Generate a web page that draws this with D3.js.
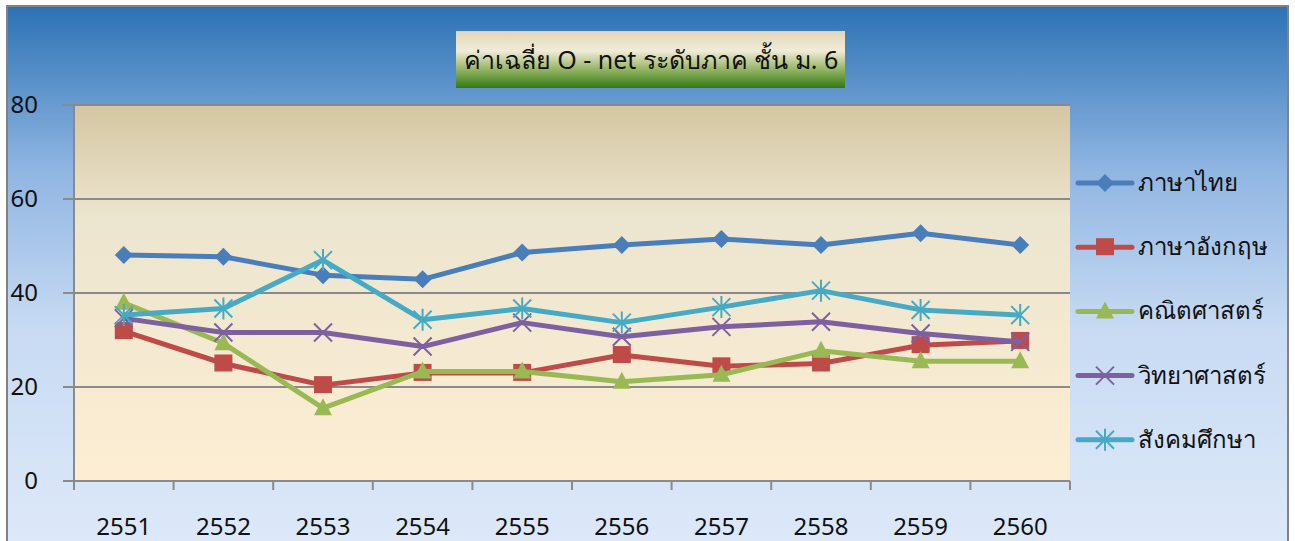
<!DOCTYPE html>
<html>
<head>
<meta charset="utf-8">
<script src="https://cdn.jsdelivr.net/npm/d3@7"></script>
<style>
  body{margin:0;background:#fff;}
  svg text{font-family:"Noto Sans","DejaVu Sans",sans-serif;fill:#111;}
</style>
</head>
<body>
<svg id="chart" width="1295" height="541"></svg>
<script>
// data
const years = ['2551','2552','2553','2554','2555','2556','2557','2558','2559','2560'];
const subjects = ['ภาษาไทย','ภาษาอังกฤษ','คณิตศาสตร์','วิทยาศาสตร์','สังคมศึกษา'];
const thai    = [48.1, 47.7, 43.8, 42.9, 48.6, 50.2, 51.5, 50.2, 52.7, 50.2];
const english = [31.9, 25.0, 20.4, 23.0, 23.0, 26.8, 24.4, 25.0, 28.9, 29.8];
const maths   = [37.9, 29.3, 15.5, 23.3, 23.3, 21.1, 22.6, 27.7, 25.5, 25.5];
const science = [34.6, 31.6, 31.6, 28.6, 33.7, 30.7, 32.8, 33.9, 31.4, 29.6];
const social  = [35.3, 36.7, 47.0, 34.3, 36.7, 33.7, 37.0, 40.5, 36.4, 35.3];
const yTicks = [0, 20, 40, 60, 80];
const colors = ['#4a7ebb','#be4b48','#98b954','#7d60a0','#46aac5'];
const markers = ['diamond','square','triangle','x','star'];

const series = [thai, english, maths, science, social].map(function(v, i){
    return {name: subjects[i], values: v, color: colors[i], marker: markers[i]};
});

const svg = d3.select('#chart');
const W = 1295, H = 541;
const plot = {left: 74, right: 1070, top: 105, bottom: 481};

let defs = svg.append('defs');
let bg = defs.append('linearGradient').attr('id','bg').attr('x1',0).attr('y1',0).attr('x2',0).attr('y2',1);
bg.append('stop').attr('offset','0%').attr('stop-color','#2c72b4');
bg.append('stop').attr('offset','30%').attr('stop-color','#8fb5e2');
bg.append('stop').attr('offset','60%').attr('stop-color','#c8dbf3');
bg.append('stop').attr('offset','100%').attr('stop-color','#dde9f9');
let pg = defs.append('linearGradient').attr('id','pg').attr('x1',0).attr('y1',0).attr('x2',0).attr('y2',1);
pg.append('stop').attr('offset','0%').attr('stop-color','#d4c6a2');
pg.append('stop').attr('offset','30%').attr('stop-color','#ece5cf');
pg.append('stop').attr('offset','100%').attr('stop-color','#fdeed3');
let tg = defs.append('linearGradient').attr('id','tg').attr('x1',0).attr('y1',0).attr('x2',0).attr('y2',1);
tg.append('stop').attr('offset','0%').attr('stop-color','#e2d6ba');
tg.append('stop').attr('offset','35%').attr('stop-color','#f0ecd8');
tg.append('stop').attr('offset','65%').attr('stop-color','#9cb86a');
tg.append('stop').attr('offset','100%').attr('stop-color','#2f7a12');

// chart background + frame
svg.append('rect').attr('x',7).attr('y',6).attr('width',1281).attr('height',H)
    .style('fill','url(#bg)').style('stroke','#828282').style('stroke-width',2);

// plot area
svg.append('rect').attr('x',plot.left).attr('y',plot.top)
    .attr('width',plot.right-plot.left).attr('height',plot.bottom-plot.top)
    .style('fill','url(#pg)');

let x = d3.scaleBand().domain(years).range([plot.left, plot.right]);
let y = d3.scaleLinear().domain([0, 80]).range([plot.bottom, plot.top]);

// gridlines
svg.append('g').selectAll('line').data(yTicks).enter().append('line')
    .attr('x1', plot.left - 11).attr('x2', plot.right)
    .attr('y1', function(d){return y(d)}).attr('y2', function(d){return y(d)})
    .style('stroke','#8a8a8a').style('stroke-width',2);

// y axis
let yAxis = svg.append('g').attr('transform','translate(' + plot.left + ',0)')
    .call(d3.axisLeft(y).tickValues(yTicks).tickSize(0).tickPadding(36));
yAxis.select('.domain').remove();
yAxis.selectAll('text').style('font-size','24px').attr('dy','0.3em').style('fill','#111');
svg.append('line').attr('x1',plot.left).attr('x2',plot.left).attr('y1',plot.top).attr('y2',plot.bottom + 8)
    .style('stroke','#8a8a8a').style('stroke-width',2);

// x axis: ticks sit between categories
let bounds = d3.range(years.length + 1).map(function(i){return plot.left + i * x.step()});
svg.append('g').selectAll('line').data(bounds).enter().append('line')
    .attr('x1', function(d){return d}).attr('x2', function(d){return d})
    .attr('y1', plot.bottom).attr('y2', plot.bottom + 9)
    .style('stroke','#8a8a8a').style('stroke-width',2);
let xAxis = svg.append('g').attr('transform','translate(0,' + plot.bottom + ')')
    .call(d3.axisBottom(x).tickSize(0).tickPadding(37));
xAxis.select('.domain').remove();
xAxis.selectAll('text').style('font-size','24px').style('fill','#111');

// lines
let line = d3.line()
    .x(function(d, i){return x(years[i]) + x.bandwidth()/2})
    .y(function(d){return y(d)});

function drawMarker(g, type, color){
    if(type == 'diamond'){
        g.append('path').attr('d','M0,-9L9,0L0,9L-9,0Z').style('fill',color);
    }else if(type == 'square'){
        g.append('rect').attr('x',-9).attr('y',-9).attr('width',18).attr('height',17).style('fill',color);
    }else if(type == 'triangle'){
        g.append('path').attr('d','M0,-10L9,7L-9,7Z').style('fill',color);
    }else if(type == 'x'){
        g.append('path').attr('d','M-9,-9L9,9M-9,9L9,-9').style('stroke',color).style('stroke-width',2);
    }else{
        g.append('path').attr('d','M-9,-9L9,9M-9,9L9,-9M0,-11L0,11').style('stroke',color).style('stroke-width',2);
    }
}

series.forEach(function(s){
    svg.append('path').datum(s.values).attr('d', line)
        .style('fill','none').style('stroke', s.color).style('stroke-width',5)
        .style('stroke-linejoin','round');
    svg.append('g').selectAll('g').data(s.values).enter().append('g')
        .attr('transform', function(d, i){return 'translate(' + (x(years[i]) + x.bandwidth()/2) + ',' + y(d) + ')'})
        .each(function(){drawMarker(d3.select(this), s.marker, s.color)});
});

// title
svg.append('rect').attr('x',456).attr('y',31).attr('width',389).attr('height',57).style('fill','url(#tg)');
svg.append('text').attr('x',651).attr('y',69).attr('text-anchor','middle')
    .style('font-size','25px').text('ค่าเฉลี่ย O - net ระดับภาค ชั้น ม. 6');

// legend
let legend = svg.append('g').selectAll('g').data(series).enter().append('g')
    .attr('transform', function(d, i){return 'translate(1078,' + (183 + i * 64.2) + ')'});
legend.append('line').attr('x1',0).attr('x2',54).style('stroke', function(d){return d.color})
    .style('stroke-width',5).style('stroke-linecap','round');
legend.each(function(d){
    let g = d3.select(this).append('g').attr('transform','translate(27,0)');
    drawMarker(g, d.marker, d.color);
});
legend.append('text').attr('x',60).attr('y',8).style('font-size','24px').text(function(d){return d.name});
</script>
</body>
</html>
